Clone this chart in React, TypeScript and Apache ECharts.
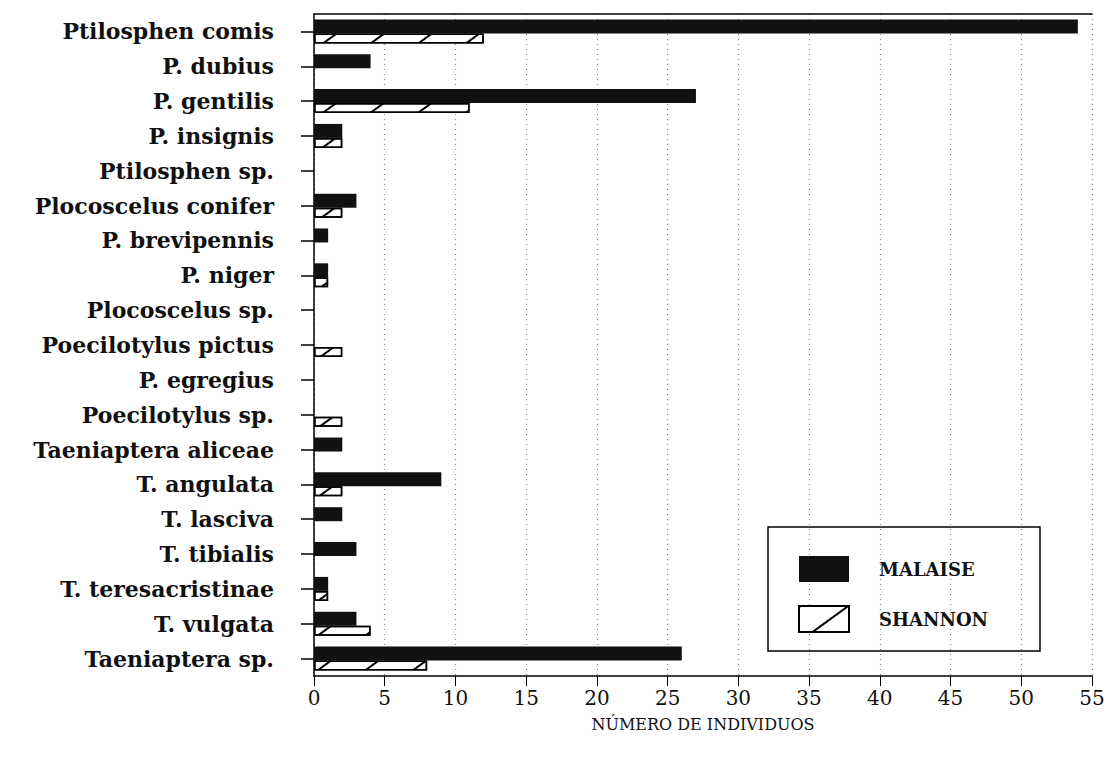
import React, { useEffect, useRef } from "react";
import * as echarts from "echarts";

const categories = [
  "Ptilosphen comis",
  "P. dubius",
  "P. gentilis",
  "P. insignis",
  "Ptilosphen sp.",
  "Plocoscelus conifer",
  "P. brevipennis",
  "P. niger",
  "Plocoscelus sp.",
  "Poecilotylus pictus",
  "P. egregius",
  "Poecilotylus sp.",
  "Taeniaptera aliceae",
  "T. angulata",
  "T. lasciva",
  "T. tibialis",
  "T. teresacristinae",
  "T. vulgata",
  "Taeniaptera sp.",
];

const malaise = [54, 4, 27, 2, 0, 3, 1, 1, 0, 0, 0, 0, 2, 9, 2, 3, 1, 3, 26];
const shannon = [12, 0, 11, 2, 0, 2, 0, 1, 0, 2, 0, 2, 0, 2, 0, 0, 1, 4, 8];

const xMin = 0;
const xMax = 55;
const xStep = 5;

const FONT = "DejaVu Serif";

const noZero = (arr: number[]) => arr.map((v) => (v === 0 ? "-" : v));

export default function App() {
  const ref = useRef<HTMLDivElement>(null);
  useEffect(() => {
    if (!ref.current) return;
    const chart = echarts.init(ref.current, null, { renderer: "svg" });
    const hatch = {
      symbol: "rect",
      symbolSize: 1,
      color: "#000",
      backgroundColor: "#fff",
      dashArrayX: [[1, 0]],
      dashArrayY: [1.5, 26],
      rotation: -Math.PI / 5,
    };
    chart.setOption({
      animation: false,
      backgroundColor: "#fff",
      grid: { left: 314, right: 18, top: 14, bottom: 90, containLabel: false },
      xAxis: [
        {
          type: "value",
          min: xMin,
          max: xMax,
          interval: xStep,
          position: "bottom",
          name: "NÚMERO DE INDIVIDUOS",
          nameLocation: "middle",
          nameGap: 40,
          nameTextStyle: { fontFamily: FONT, fontSize: 16, color: "#111" },
          axisLine: { show: true, lineStyle: { color: "#000", width: 1.5 } },
          axisTick: { show: true, length: 10, inside: false, lineStyle: { color: "#000" } },
          axisLabel: { fontFamily: FONT, fontSize: 20, color: "#111", margin: 12 },
          splitLine: { show: true, lineStyle: { color: "#888", type: [1, 4], width: 1.2 } },
        },
        {
          type: "value",
          min: xMin,
          max: xMax,
          interval: xStep,
          position: "top",
          axisLine: { show: true, lineStyle: { color: "#000", width: 1.5 } },
          axisTick: { show: false },
          axisLabel: { show: false },
          splitLine: { show: false },
        },
      ],
      yAxis: {
        type: "category",
        data: categories,
        inverse: true,
        axisLine: { show: true, lineStyle: { color: "#000", width: 1.5 } },
        axisTick: { show: true, alignWithLabel: true, length: 13, lineStyle: { color: "#000", width: 1.5 } },
        axisLabel: { fontFamily: FONT, fontSize: 22, fontWeight: "bold", color: "#111", margin: 40 },
        splitLine: { show: false },
      },
      legend: {
        left: 793,
        top: 551,
        orient: "vertical",
        itemWidth: 50,
        itemHeight: 26,
        itemGap: 23,
        icon: "rect",
        textStyle: { fontFamily: FONT, fontSize: 18, fontWeight: "bold", color: "#111", padding: [0, 0, 0, 25] },
        data: ["MALAISE", "SHANNON"],
      },
      graphic: [
        {
          type: "rect",
          shape: { x: 768, y: 527, width: 272, height: 124 },
          style: { fill: "#fff", stroke: "#000", lineWidth: 1.5 },
          z: -1,
        },
      ],
      series: [
        {
          name: "MALAISE",
          type: "bar",
          data: noZero(malaise),
          barWidth: 14,
          barGap: "0%",
          itemStyle: { color: "#111", borderColor: "#000", borderWidth: 0 },
        },
        {
          name: "SHANNON",
          type: "bar",
          data: noZero(shannon),
          barWidth: 10,
          barGap: "0%",
          itemStyle: { color: "#fff", borderColor: "#000", borderWidth: 1.5, decal: hatch },
        },
      ],
    });
    return () => chart.dispose();
  }, []);
  return (
    <div
      ref={ref}
      style={{ position: "fixed", left: 0, top: 0, width: 1110, height: 766, background: "#fff" }}
    />
  );
}
